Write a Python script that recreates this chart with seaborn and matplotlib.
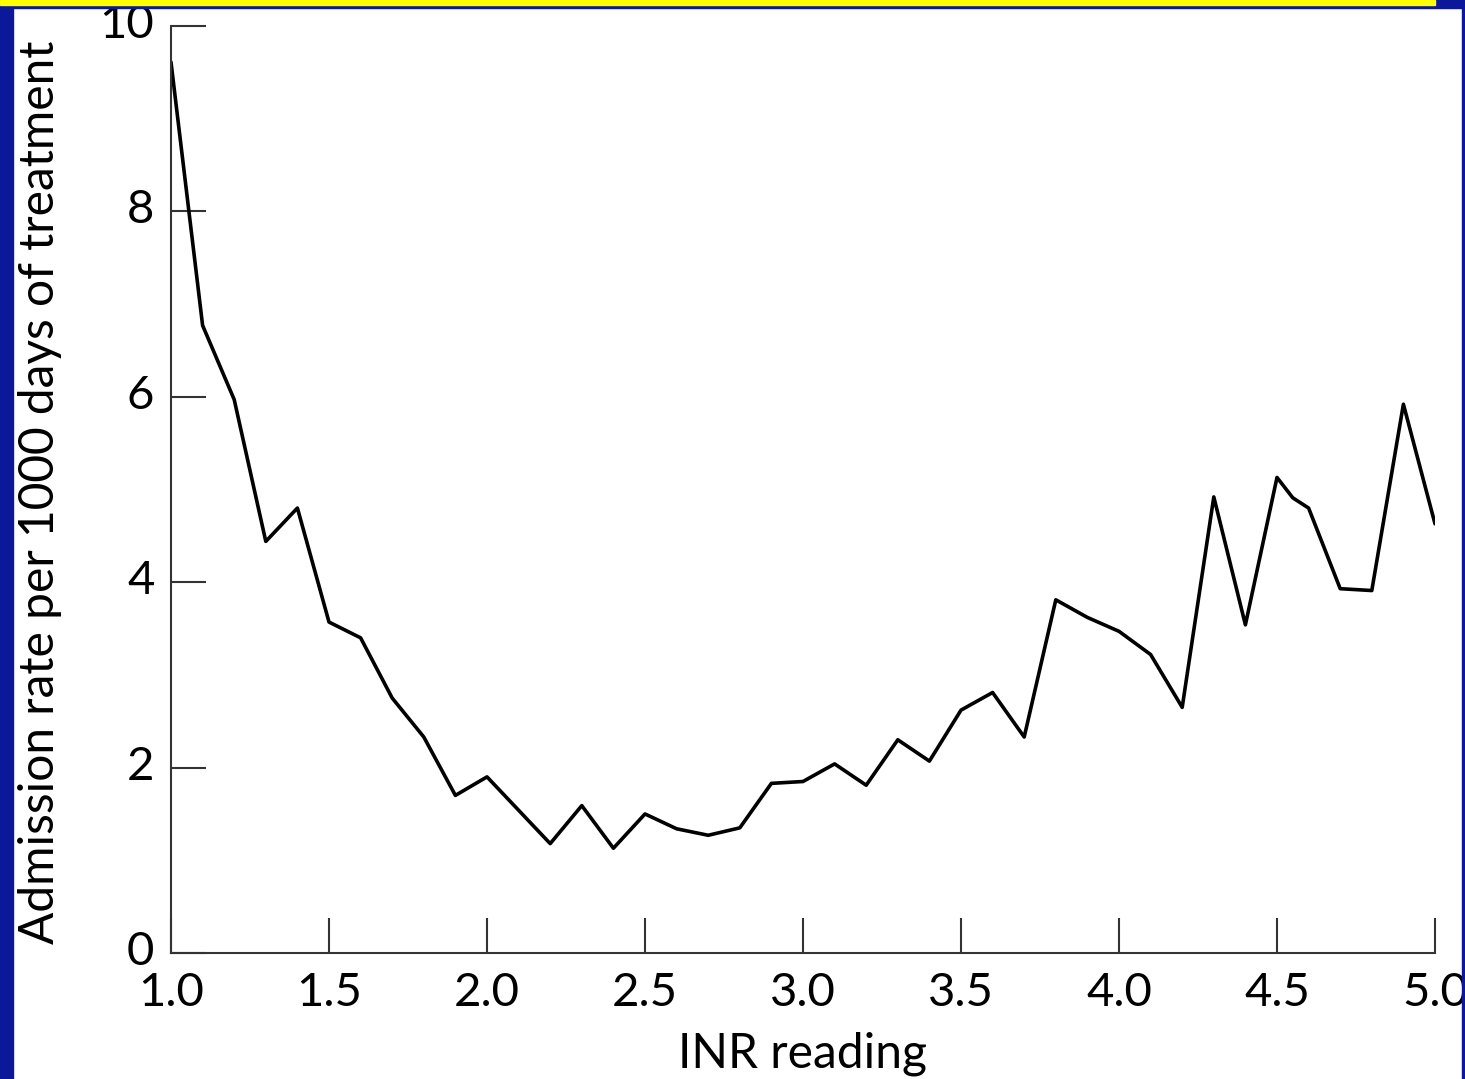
import numpy as np
import pandas as pd
import matplotlib
matplotlib.use("Agg")
import matplotlib.pyplot as plt
import matplotlib.transforms as mtransforms
import seaborn as sns
from matplotlib.patches import Rectangle

# INR reading vs admission rate
inr = [1.0, 1.1, 1.2, 1.3, 1.4, 1.5, 1.6, 1.7, 1.8, 1.9,
       2.0, 2.1, 2.2, 2.3, 2.4, 2.5, 2.6, 2.7, 2.8, 2.9,
       3.0, 3.1, 3.2, 3.3, 3.4, 3.5, 3.6, 3.7, 3.8, 3.9,
       4.0, 4.1, 4.2, 4.3, 4.4, 4.5, 4.55, 4.6, 4.7, 4.8, 4.9, 5.0]
rate = [9.61, 6.77, 5.97, 4.44, 4.80, 3.57, 3.40, 2.75, 2.33, 1.70,
        1.90, 1.54, 1.18, 1.59, 1.13, 1.50, 1.34, 1.27, 1.35, 1.83,
        1.85, 2.04, 1.81, 2.30, 2.07, 2.62, 2.81, 2.33, 3.81, 3.62,
        3.47, 3.22, 2.65, 4.92, 3.54, 5.13, 4.91, 4.80, 3.93, 3.91, 5.92, 4.63]
xticks = [1.0, 1.5, 2.0, 2.5, 3.0, 3.5, 4.0, 4.5, 5.0]
xtick_labels = ["1.0", "1.5", "2.0", "2.5", "3.0", "3.5", "4.0", "4.5", "5.0"]
yticks = [0, 2, 4, 6, 8, 10]

df = pd.DataFrame({"inr": inr, "rate": rate})

sns.set_style("ticks")
plt.rcParams["font.family"] = ["Lato", "DejaVu Sans"]

blue = "#0a1899"
fig = plt.figure(figsize=(14.65, 10.79), dpi=100, facecolor="white")

# slide frame: blue side bands, yellow strip on top
fig.patches.append(Rectangle((0, 0), 13 / 1465, 1, transform=fig.transFigure,
                             color=blue, zorder=0))
fig.patches.append(Rectangle((1 - 3 / 1465, 0), 3 / 1465, 1, transform=fig.transFigure,
                             color=blue, zorder=0))
fig.patches.append(Rectangle((0, 1 - 8 / 1079), 1, 8 / 1079, transform=fig.transFigure,
                             color=blue, zorder=0))
fig.patches.append(Rectangle((0, 1 - 5 / 1079), 1435 / 1465, 5 / 1079,
                             transform=fig.transFigure, color="#ffff00", zorder=1))

ax = fig.add_axes([171 / 1465, 126 / 1079, 1264 / 1465, 927 / 1079])
ax.set_facecolor("none")
sns.lineplot(data=df, x="inr", y="rate", ax=ax, color="black", linewidth=2.6)

ax.set_xlim(1.0, 5.0)
ax.set_ylim(0, 10)
ax.set_xticks(xticks)
ax.set_xticklabels(xtick_labels)
ax.set_yticks(yticks)
sns.despine(ax=ax)
for s in ["left", "bottom"]:
    ax.spines[s].set_linewidth(1.5)
    ax.spines[s].set_color("#333333")
ax.tick_params(direction="in", length=25, width=1.5, color="#333333",
               labelsize=34, labelcolor="black")
ax.tick_params(axis="y", pad=12)
ax.tick_params(axis="x", pad=14)

# y tick labels sit a little above their ticks in the reference
shift = mtransforms.ScaledTranslation(0, 5 / 100, fig.dpi_scale_trans)
for lab in ax.get_yticklabels():
    lab.set_transform(lab.get_transform() + shift)

xl = ax.set_xlabel("INR reading", fontsize=38, color="black")
ax.xaxis.set_label_coords(0.5, -0.085)
yl = ax.set_ylabel("Admission rate per 1000 days of treatment", fontsize=38, color="black")
ax.yaxis.set_label_coords(-0.086, 0.497)

# scale the axis labels to the lengths seen in the reference
r = fig.canvas.get_renderer()
h = yl.get_window_extent(r).height
yl.set_fontsize(38 * 905 / h)
w = xl.get_window_extent(r).width
xl.set_fontsize(38 * 250 / w)

fig.savefig("out.png", dpi=100, facecolor="white")
